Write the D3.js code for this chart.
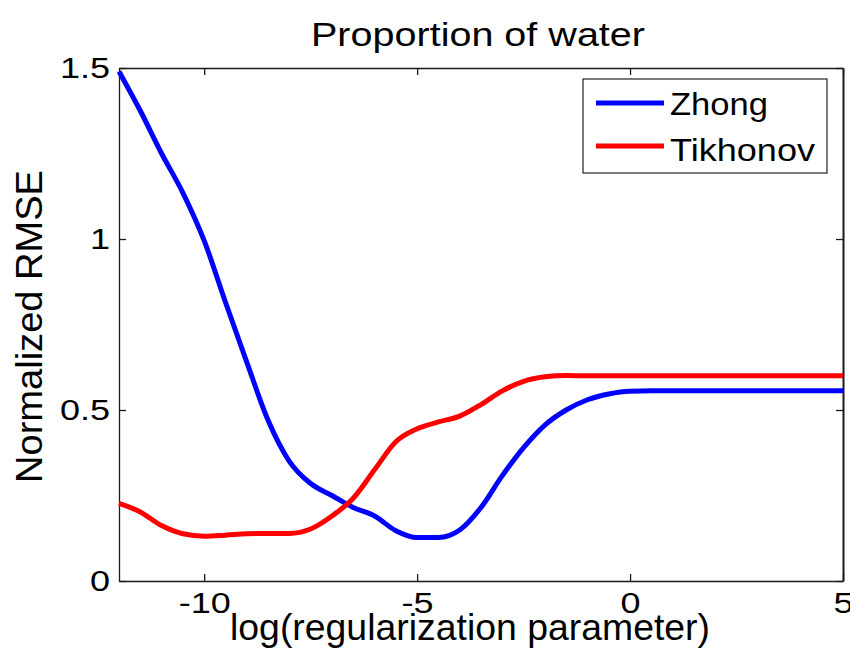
<!DOCTYPE html>
<html>
<head>
<meta charset="utf-8">
<script src="https://cdn.jsdelivr.net/npm/d3@7"></script>
<style>
  html, body { margin: 0; padding: 0; background: #fff; }
  svg { display: block; }
  text { font-family: "Liberation Sans", Arial, Helvetica, sans-serif; fill: #000; }
</style>
</head>
<body>
<svg id="chart" width="850" height="664"></svg>
<script>
// ---- data ----
const xValues = [-12, -11.5, -11, -10.5, -10, -9.5, -9, -8.5, -8, -7.5, -7, -6.5, -6, -5.5, -5, -4.5, -4, -3.5, -3, -2.5, -2, -1.5, -1, -0.5, 0, 0.5, 1, 1.5, 2, 2.5, 3, 3.5, 4, 4.5, 5];
const zhongValues = [1.49, 1.375, 1.25, 1.135, 0.995, 0.815, 0.64, 0.47, 0.35, 0.285, 0.25, 0.215, 0.19, 0.147, 0.127, 0.127, 0.149, 0.215, 0.308, 0.39, 0.456, 0.50, 0.53, 0.547, 0.555, 0.556, 0.556, 0.556, 0.556, 0.556, 0.556, 0.556, 0.556, 0.556, 0.556];
const tikhonovValues = [0.227, 0.202, 0.162, 0.138, 0.131, 0.134, 0.138, 0.139, 0.139, 0.152, 0.19, 0.242, 0.325, 0.407, 0.445, 0.465, 0.482, 0.516, 0.556, 0.584, 0.597, 0.601, 0.60, 0.60, 0.60, 0.60, 0.60, 0.60, 0.60, 0.60, 0.60, 0.60, 0.60, 0.60, 0.60];
const seriesNames = ["Zhong", "Tikhonov"];
const seriesColors = ["#0000ff", "#ff0000"];
const xTicks = [-10, -5, 0, 5];
const xTickLabels = ["-10", "-5", "0", "5"];
const yTicks = [0, 0.5, 1, 1.5];
const yTickLabels = ["0", "0.5", "1", "1.5"];
const titleText = "Proportion of water";
const xLabelText = "log(regularization parameter)";
const yLabelText = "Normalized RMSE";

// ---- layout ----
const L = 119, R = 843, T = 68, B = 581;
const svg = d3.select("#chart");
const x = d3.scaleLinear().domain([-12, 5]).range([L, R]);
const y = d3.scaleLinear().domain([0, 1.5]).range([B, T]);
const stretch = 1.2;

// axes
const axisColor = "#1a1a1a";
function styleAxis(g) {
  g.selectAll("path.domain").attr("stroke", axisColor).attr("stroke-width", 1.3);
  g.selectAll(".tick line").attr("stroke", axisColor).attr("stroke-width", 1.3);
}
const gx = svg.append("g").attr("transform", `translate(0,${B})`)
  .call(d3.axisBottom(x).tickValues(xTicks).tickSizeInner(-7).tickSizeOuter(0).tickPadding(11)
    .tickFormat((d, i) => xTickLabels[i]));
styleAxis(gx);
gx.selectAll(".tick text").attr("font-size", 30).attr("font-family", "'Liberation Sans', Arial, sans-serif")
  .attr("fill", "#000").attr("transform", `scale(${stretch},1)`);

const gy = svg.append("g").attr("transform", `translate(${L},0)`)
  .call(d3.axisLeft(y).tickValues(yTicks).tickSizeInner(-7).tickSizeOuter(0).tickPadding(9 / stretch)
    .tickFormat((d, i) => yTickLabels[i]));
styleAxis(gy);
gy.selectAll(".tick text").attr("font-size", 30).attr("font-family", "'Liberation Sans', Arial, sans-serif")
  .attr("fill", "#000").attr("transform", `scale(${stretch},1)`);

const gt = svg.append("g").attr("transform", `translate(0,${T})`)
  .call(d3.axisTop(x).tickValues(xTicks).tickSizeInner(-7).tickSizeOuter(0).tickFormat(""));
styleAxis(gt);
const gr = svg.append("g").attr("transform", `translate(${R},0)`)
  .call(d3.axisRight(y).tickValues(yTicks).tickSizeInner(-7).tickSizeOuter(0).tickFormat(""));
styleAxis(gr);
gr.selectAll("path.domain").attr("stroke-width", 2);

// lines
const seriesData = [zhongValues, tikhonovValues];
const line = d3.line().x((d, i) => x(xValues[i])).y(d => y(d)).curve(d3.curveMonotoneX);
seriesData.forEach((vals, k) => {
  svg.append("path").datum(vals)
    .attr("fill", "none").attr("stroke", seriesColors[k]).attr("stroke-width", 5)
    .attr("stroke-linejoin", "round").attr("stroke-linecap", "butt")
    .attr("d", line);
});

// title
svg.append("text").attr("x", 311).attr("y", 46).attr("font-size", 33)
  .attr("textLength", 334).attr("lengthAdjust", "spacingAndGlyphs").text(titleText);

// x label
svg.append("text").attr("x", 230).attr("y", 640).attr("font-size", 36)
  .attr("textLength", 480).attr("lengthAdjust", "spacingAndGlyphs").text(xLabelText);

// y label
svg.append("text").attr("transform", "translate(42,483) rotate(-90)").attr("font-size", 37)
  .attr("textLength", 313).attr("lengthAdjust", "spacingAndGlyphs").text(yLabelText);

// legend
const lg = svg.append("g");
lg.append("rect").attr("x", 583).attr("y", 79).attr("width", 244).attr("height", 94)
  .attr("fill", "#fff").attr("stroke", "#222").attr("stroke-width", 1.2);
const legendY = [103, 146];
const legendBase = [115, 161];
const legendLen = [98, 145];
seriesNames.forEach((name, k) => {
  lg.append("line").attr("x1", 596).attr("x2", 664).attr("y1", legendY[k]).attr("y2", legendY[k])
    .attr("stroke", seriesColors[k]).attr("stroke-width", 5);
  lg.append("text").attr("x", 670).attr("y", legendBase[k]).attr("font-size", 32)
    .attr("textLength", legendLen[k]).attr("lengthAdjust", "spacingAndGlyphs").text(name);
});
</script>
</body>
</html>
